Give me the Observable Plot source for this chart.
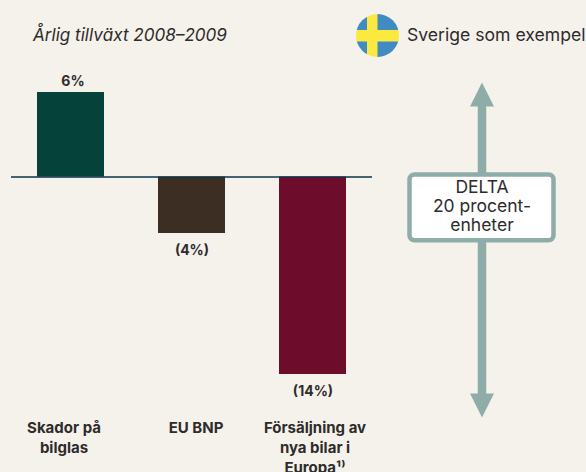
<!DOCTYPE html>
<html lang="sv">
<head>
<meta charset="utf-8">
<script src="https://cdn.jsdelivr.net/npm/d3@7"></script>
<script src="https://cdn.jsdelivr.net/npm/@observablehq/plot@0.6"></script>
<style>
  html, body { margin: 0; padding: 0; background: #f5f2eb; overflow: hidden; width: 586px; height: 472px; }
  body { font-family: Inter, "Noto Sans", sans-serif; color: #2e2b2b; }
  #head { position: relative; height: 70px; }
  #title { position: absolute; left: 33px; top: 24px; font-size: 17.1px; font-style: italic; line-height: 22px; white-space: nowrap; }
  #flag { position: absolute; left: 356px; top: 14px; width: 43px; height: 43px; border-radius: 50%;
    background:
      linear-gradient(#fce93f, #fce93f) 0 15.5px / 100% 11.5px no-repeat,
      linear-gradient(#fce93f, #fce93f) 11px 0 / 10.5px 100% no-repeat,
      #3f8bc2; }
  #legend { position: absolute; left: 407px; top: 24px; font-size: 17.6px; line-height: 22px; white-space: nowrap; }
  svg { display: block; }
</style>
</head>
<body>
<div id="head">
  <div id="title">Årlig tillväxt 2008–2009</div>
  <div id="flag"></div>
  <div id="legend">Sverige som exempel</div>
</div>
<div id="chart"></div>
<script>
const categories = ["Skador på\nbilglas", "EU BNP", "Försäljning av\nnya bilar i\nEuropa¹⁾"];
const values = [6, -4, -14];
const barColors = ["#04423a", "#3d2e24", "#6e0c2c"];
const valueLabels = ["6%", "(4%)", "(14%)"];
const deltaHeads = [5.86, -16.2];
const deltaBox = {top: 0.15, bottom: -4.52};
const deltaText = "DELTA\n20 procent-\nenheter";

const table = categories.map((category, i) => ({category, value: values[i], color: barColors[i], label: valueLabels[i]}));
const last = categories[categories.length - 1];
const arrowOffset = 169;
const arrowColor = "#8fada8";
const tickShift = [-7, 4, 2];

const headSymbol = {
  draw(context, size) {
    const r = Math.sqrt(size / Math.PI);
    context.moveTo(0, -r);
    context.lineTo(r, r);
    context.lineTo(-r, r);
    context.closePath();
  }
};

const plot = Plot.plot({
  width: 586,
  height: 402,
  marginLeft: 11,
  marginRight: 214,
  marginTop: 0,
  marginBottom: 60,
  style: {background: "transparent", overflow: "hidden"},
  x: {type: "band", domain: categories, paddingInner: 0.446, paddingOuter: 0.2145, align: 0.5, label: null},
  y: {domain: [-14, 6], range: [304, 22], axis: null},
  marks: [
    Plot.barY(table, {x: "category", y: "value", fill: "color"}),
    Plot.ruleY([0], {stroke: "#0a3348", strokeWidth: 1.5}),
    Plot.text(table, {
      x: "category", y: "value", text: "label",
      fontSize: 14, fontWeight: 700, fill: "#2e2b2b", fontFamily: "Inter",
      filter: d => d.value > 0, dy: -11, dx: 2
    }),
    Plot.text(table, {
      x: "category", y: "value", text: "label",
      fontSize: 14, fontWeight: 700, fill: "#2e2b2b", fontFamily: "Inter",
      filter: d => d.value < 0, dy: 17, dx: 0
    }),
    ...categories.map((c, i) => Plot.axisX([c], {
      anchor: "bottom", tickSize: 0, tickPadding: 7, label: null, dx: tickShift[i],
      fontSize: 15, fontWeight: 700, fill: "#2e2b2b", fontFamily: "Inter", lineHeight: 1.31
    })),
    Plot.ruleX([last], {x: d => d, y1: deltaHeads[0], y2: deltaHeads[1], dx: arrowOffset, stroke: arrowColor, strokeWidth: 8.5}),
    Plot.dot(deltaHeads, {
      x: () => last, y: d => d, r: 12, dx: arrowOffset, fill: arrowColor, stroke: null,
      symbol: headSymbol, rotate: d => d < 0 ? 180 : 0
    }),
    Plot.barY([deltaBox], {
      x: () => last, y1: "top", y2: "bottom", dx: arrowOffset,
      insetLeft: -38.5, insetRight: -38.5, rx: 5,
      fill: "#ffffff", stroke: arrowColor, strokeWidth: 4.5
    }),
    Plot.text([deltaText], {
      x: () => last, y: () => (deltaBox.top + deltaBox.bottom) / 2, text: d => d, dx: arrowOffset, dy: -2,
      fontSize: 17.5, lineHeight: 1.09, fill: "#2e2b2b", fontFamily: "Inter"
    })
  ]
});
document.getElementById("chart").appendChild(plot);
</script>
</body>
</html>
